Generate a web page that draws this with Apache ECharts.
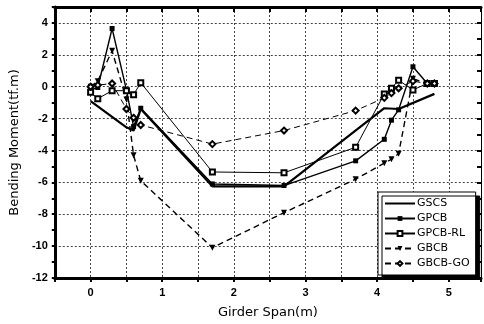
<!DOCTYPE html>
<html>
<head>
<meta charset="utf-8">
<script src="https://cdn.jsdelivr.net/npm/echarts@6/dist/echarts.min.js"></script>
<style>
  html, body { margin: 0; padding: 0; background: #fff; }
  #chart { width: 484px; height: 324px; }
</style>
</head>
<body>
<div id="chart"></div>
<script>
// girder span stations (m)
const spanX = [0, 0.1, 0.3, 0.5, 0.6, 0.7, 1.7, 2.7, 3.7, 4.1, 4.2, 4.3, 4.5, 4.7, 4.8]
const gscsX = [0, 0.5, 0.6, 0.7, 1.7, 2.7, 4.1, 4.3, 4.8]

// bending moment (tf.m)
const gscs = [-0.9, -2.55, -2.75, -1.4, -6.25, -6.25, -1.35, -1.4, -0.45]
const gpcb = [-0.2, -0.05, 3.65, -0.2, -2.5, -1.35, -6.1, -6.2, -4.65, -3.3, -2.1, -1.45, 1.25, 0.2, 0.2]
const gpcbRl = [-0.35, -0.75, -0.25, -0.25, -0.5, 0.25, -5.35, -5.4, -3.8, -0.45, -0.1, 0.4, -0.2, 0.2, 0.2]
const gbcb = [0, 0.35, 2.25, -0.8, -4.3, -5.9, -10.1, -7.9, -5.8, -4.8, -4.55, -4.2, 0.5, 0.2, 0.2]
const gbcbGo = [0, 0.1, 0.2, -1.4, -1.95, -2.4, -3.6, -2.75, -1.5, -0.7, -0.4, -0.1, 0.35, 0.2, 0.2]

const xTicks = [0, 1, 2, 3, 4, 5]
const yTicks = [-12, -10, -8, -6, -4, -2, 0, 2, 4]

const pairs = (xs, ys) => xs.map((x, i) => [x, ys[i]])

const chart = echarts.init(document.getElementById('chart'))

const font = 'Liberation Sans'
const nameFont = 'DejaVu Sans'
const gridLine = { show: true, lineStyle: { color: '#444', type: [2, 2], width: 1 } }

const option = {
  animation: false,
  backgroundColor: '#fff',
  grid: { left: 53, right: 3, top: 7, bottom: 46 },
  legend: {
    orient: 'vertical',
    left: 378,
    top: 192,
    itemWidth: 30,
    itemHeight: 6,
    itemGap: 4,
    padding: [6, 6, 6, 6],
    backgroundColor: '#fff',
    borderColor: '#000',
    borderWidth: 1,
    shadowColor: '#000',
    shadowOffsetX: 4,
    shadowOffsetY: 4,
    shadowBlur: 0,
    textStyle: { fontFamily: nameFont, fontSize: 11, color: '#000', padding: [0, 0, 0, -3] },
    data: [
      { name: 'GSCS', itemStyle: { opacity: 0 } },
      'GPCB', 'GPCB-RL', 'GBCB', 'GBCB-GO'
    ]
  },
  xAxis: [
    {
      type: 'value',
      position: 'bottom',
      min: -0.5,
      max: 5.45,
      interval: 0.5,
      name: 'Girder Span(m)',
      nameLocation: 'middle',
      nameGap: 28,
      nameTextStyle: { fontFamily: nameFont, fontSize: 13, color: '#000' },
      axisLine: { show: true, onZero: false, lineStyle: { color: '#000', width: 3 } },
      axisTick: { show: true, inside: false, length: 4, lineStyle: { color: '#000', width: 2 } },
      axisLabel: {
        fontFamily: font, fontSize: 11, fontWeight: 'bold', color: '#000', margin: 9,
        formatter: (v) => xTicks.includes(Math.round(v * 100) / 100) ? String(v) : ''
      },
      splitLine: gridLine
    },
    {
      type: 'value',
      position: 'top',
      min: -0.5,
      max: 5.45,
      interval: 0.5,
      axisLine: { show: true, onZero: false, lineStyle: { color: '#000', width: 3 } },
      axisTick: { show: true, inside: true, length: 5, lineStyle: { color: '#000', width: 2 } },
      axisLabel: { show: false },
      splitLine: { show: false }
    }
  ],
  yAxis: [
    {
      type: 'value',
      position: 'left',
      min: -12,
      max: 5,
      interval: 2,
      name: 'Bending Moment(tf.m)',
      nameLocation: 'middle',
      nameGap: 32,
      nameTextStyle: { fontFamily: nameFont, fontSize: 13, color: '#000' },
      axisLine: { show: true, onZero: false, lineStyle: { color: '#000', width: 3 } },
      axisTick: { show: true, inside: false, length: 3, lineStyle: { color: '#000', width: 2 } },
      minorTick: { show: true, splitNumber: 2, length: 3, lineStyle: { color: '#000', width: 2 } },
      axisLabel: {
        fontFamily: font, fontSize: 11, fontWeight: 'bold', color: '#000', margin: 7,
        formatter: (v) => yTicks.includes(v) ? String(v) : ''
      },
      splitLine: gridLine
    },
    {
      type: 'value',
      position: 'right',
      min: -12,
      max: 5,
      interval: 1,
      axisLine: { show: true, onZero: false, lineStyle: { color: '#000', width: 1 } },
      axisTick: { show: true, inside: true, length: 4, lineStyle: { color: '#000', width: 2 } },
      axisLabel: { show: false },
      splitLine: { show: false }
    }
  ],
  series: [
    {
      name: 'GSCS',
      type: 'line',
      data: pairs(gscsX, gscs),
      symbol: 'none',
      lineStyle: { color: '#000', width: 2.2 },
      itemStyle: { color: '#000' }
    },
    {
      name: 'GPCB',
      type: 'line',
      data: pairs(spanX, gpcb),
      symbol: 'rect',
      symbolSize: 5,
      lineStyle: { color: '#000', width: 1.4 },
      itemStyle: { color: '#000' }
    },
    {
      name: 'GPCB-RL',
      type: 'line',
      data: pairs(spanX, gpcbRl),
      symbol: 'emptyRect',
      symbolSize: 5,
      lineStyle: { color: '#000', width: 1 },
      itemStyle: { color: '#000', borderWidth: 1 }
    },
    {
      name: 'GBCB',
      type: 'line',
      data: pairs(spanX, gbcb),
      symbol: 'triangle',
      symbolRotate: 180,
      symbolSize: 6,
      lineStyle: { color: '#000', width: 1.4, type: [6, 4] },
      itemStyle: { color: '#000' }
    },
    {
      name: 'GBCB-GO',
      type: 'line',
      data: pairs(spanX, gbcbGo),
      symbol: 'emptyDiamond',
      symbolSize: 6,
      lineStyle: { color: '#000', width: 1, type: [6, 4] },
      itemStyle: { color: '#000', borderWidth: 1 }
    }
  ]
}

chart.setOption(option)
</script>
</body>
</html>
